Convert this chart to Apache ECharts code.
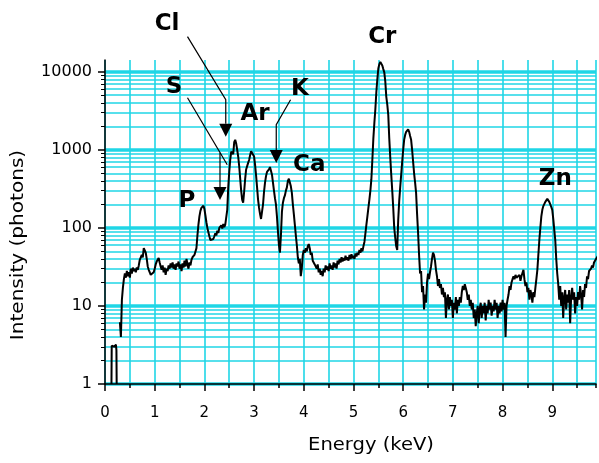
<!DOCTYPE html>
<html>
<head>
<meta charset="utf-8">
<title>XRF spectrum</title>
<script src="https://cdn.jsdelivr.net/npm/echarts@6/dist/echarts.min.js"></script>
<style>
  html, body { margin: 0; padding: 0; background: #fff; }
  #main { width: 599px; height: 463px; }
</style>
</head>
<body>
<div id="main"></div>
<script>
// spectrum: energy (keV) / intensity (photons)
var energy = [
  0.13, 0.135, 0.16, 0.19, 0.22, 0.23, 0.235, 0.27, 0.30, 0.32,
  0.34, 0.36, 0.38, 0.40, 0.42, 0.44, 0.46, 0.48, 0.50, 0.52,
  0.54, 0.56, 0.58, 0.60, 0.62, 0.64, 0.66, 0.68, 0.70, 0.72,
  0.74, 0.76, 0.78, 0.80, 0.82, 0.84, 0.86, 0.88, 0.90, 0.92,
  0.94, 0.96, 0.98, 1.00, 1.02, 1.04, 1.06, 1.08, 1.10, 1.12,
  1.14, 1.16, 1.18, 1.20, 1.22, 1.24, 1.26, 1.28, 1.30, 1.32,
  1.34, 1.36, 1.38, 1.40, 1.42, 1.44, 1.46, 1.48, 1.50, 1.52,
  1.54, 1.56, 1.58, 1.60, 1.62, 1.64, 1.66, 1.68, 1.70, 1.72,
  1.74, 1.76, 1.78, 1.80, 1.82, 1.84, 1.86, 1.88, 1.90, 1.92,
  1.94, 1.96, 1.98, 2.00, 2.02, 2.04, 2.06, 2.08, 2.10, 2.12,
  2.14, 2.16, 2.18, 2.20, 2.22, 2.24, 2.26, 2.28, 2.30, 2.32,
  2.34, 2.36, 2.38, 2.40, 2.42, 2.44, 2.46, 2.48, 2.50, 2.52,
  2.54, 2.56, 2.58, 2.60, 2.62, 2.64, 2.66, 2.68, 2.70, 2.72,
  2.74, 2.76, 2.78, 2.80, 2.82, 2.84, 2.86, 2.88, 2.90, 2.92,
  2.94, 2.96, 2.98, 3.00, 3.02, 3.04, 3.06, 3.08, 3.10, 3.12,
  3.14, 3.16, 3.18, 3.20, 3.22, 3.24, 3.26, 3.28, 3.30, 3.32,
  3.34, 3.36, 3.38, 3.40, 3.42, 3.44, 3.46, 3.48, 3.50, 3.52,
  3.54, 3.56, 3.58, 3.60, 3.62, 3.64, 3.66, 3.68, 3.70, 3.72,
  3.74, 3.76, 3.78, 3.80, 3.82, 3.84, 3.86, 3.88, 3.90, 3.92,
  3.94, 3.96, 3.98, 4.00, 4.02, 4.04, 4.06, 4.08, 4.10, 4.12,
  4.14, 4.16, 4.18, 4.20, 4.22, 4.24, 4.26, 4.28, 4.30, 4.32,
  4.34, 4.36, 4.38, 4.40, 4.42, 4.44, 4.46, 4.48, 4.50, 4.52,
  4.54, 4.56, 4.58, 4.60, 4.62, 4.64, 4.66, 4.68, 4.70, 4.72,
  4.74, 4.76, 4.78, 4.80, 4.82, 4.84, 4.86, 4.88, 4.90, 4.92,
  4.94, 4.96, 4.98, 5.00, 5.02, 5.04, 5.06, 5.08, 5.10, 5.12,
  5.14, 5.16, 5.18, 5.20, 5.22, 5.24, 5.26, 5.28, 5.30, 5.32,
  5.34, 5.36, 5.38, 5.40, 5.42, 5.44, 5.46, 5.48, 5.50, 5.52,
  5.54, 5.56, 5.58, 5.60, 5.62, 5.64, 5.66, 5.68, 5.70, 5.72,
  5.74, 5.76, 5.78, 5.80, 5.82, 5.84, 5.86, 5.88, 5.90, 5.92,
  5.94, 5.96, 5.98, 6.00, 6.02, 6.04, 6.06, 6.08, 6.10, 6.12,
  6.14, 6.16, 6.18, 6.20, 6.22, 6.24, 6.26, 6.28, 6.30, 6.32,
  6.34, 6.36, 6.38, 6.40, 6.42, 6.44, 6.46, 6.48, 6.50, 6.52,
  6.54, 6.56, 6.58, 6.60, 6.62, 6.64, 6.66, 6.68, 6.70, 6.72,
  6.74, 6.76, 6.78, 6.80, 6.82, 6.84, 6.86, 6.88, 6.90, 6.92,
  6.94, 6.96, 6.98, 7.00, 7.02, 7.04, 7.06, 7.08, 7.10, 7.12,
  7.14, 7.16, 7.18, 7.20, 7.22, 7.24, 7.26, 7.28, 7.30, 7.32,
  7.34, 7.36, 7.38, 7.40, 7.42, 7.44, 7.46, 7.48, 7.50, 7.52,
  7.54, 7.56, 7.58, 7.60, 7.62, 7.64, 7.66, 7.68, 7.70, 7.72,
  7.74, 7.76, 7.78, 7.80, 7.82, 7.84, 7.86, 7.88, 7.90, 7.92,
  7.94, 7.96, 7.98, 8.00, 8.02, 8.04, 8.06, 8.08, 8.10, 8.12,
  8.14, 8.16, 8.18, 8.20, 8.22, 8.24, 8.26, 8.28, 8.30, 8.32,
  8.34, 8.36, 8.38, 8.40, 8.42, 8.44, 8.46, 8.48, 8.50, 8.52,
  8.54, 8.56, 8.58, 8.60, 8.62, 8.64, 8.66, 8.68, 8.70, 8.72,
  8.74, 8.76, 8.78, 8.80, 8.82, 8.84, 8.86, 8.88, 8.90, 8.92,
  8.94, 8.96, 8.98, 9.00, 9.02, 9.04, 9.06, 9.08, 9.10, 9.12,
  9.14, 9.16, 9.18, 9.20, 9.22, 9.24, 9.26, 9.28, 9.30, 9.32,
  9.34, 9.36, 9.38, 9.40, 9.42, 9.44, 9.46, 9.48, 9.50, 9.52,
  9.54, 9.56, 9.58, 9.60, 9.62, 9.64, 9.66, 9.68, 9.70, 9.72,
  9.74, 9.76, 9.78, 9.80, 9.82, 9.84, 9.86, 9.88, 9.90, 9.92
];
var counts = [
  1, 3.1, 3.2, 3.0, 3.2, 2.7, 1, null, 6.2, 4,
  12, 17, 22, 26, 23, 28, 24, 27, 23, 30,
  26, 31, 28, 30, 27, 31, 29, 33, 39, 37,
  45, 42, 55, 57, 48, 40, 32, 29, 27, 25,
  24, 25, 27, 30, 34, 37, 39, 41, 36, 32,
  29, 33, 27, 31, 25, 30, 28, 33, 30, 35,
  31, 36, 30, 34, 29, 35, 32, 37, 30, 34,
  28, 35, 31, 38, 32, 40, 34, 30, 36, 33,
  39, 42, 40, 45, 43, 55, 80, 110, 140, 165,
  180, 190, 192, 175, 145, 118, 100, 88, 78, 70,
  66, 68, 72, 78, 85, 80, 92, 86, 100, 95,
  108, 98, 112, 102, 110, 104, 170, 330, 520, 750,
  950, 1000, 880, 1250, 1340, 1200, 1000, 820, 620, 430,
  300, 230, 210, 290, 420, 560, 540, 680, 740, 850,
  960, 1000, 980, 820, 640, 470, 330, 230, 180, 150,
  130, 125, 200, 290, 380, 460, 520, 500, 560, 600,
  585, 480, 380, 300, 240, 200, 140, 90, 60, 48,
  80, 160, 210, 240, 260, 300, 330, 400, 425, 415,
  340, 280, 200, 150, 110, 80, 60, 42, 35, 40,
  24, 30, 45, 52, 48, 55, 50, 58, 62, 55,
  45, 48, 38, 40, 34, 36, 30, 34, 27, 30,
  25, 28, 24, 30, 27, 33, 29, 32, 28, 35,
  30, 33, 29, 36, 31, 35, 30, 38, 34, 40,
  36, 42, 37, 41, 38, 44, 39, 42, 38, 45,
  40, 46, 41, 44, 40, 47, 43, 48, 45, 52,
  48, 55, 50, 58, 66, 85, 110, 140, 180, 230,
  300, 420, 750, 1400, 2200, 3300, 5500, 8000, 11000, 12500,
  13300, 12800, 12000, 10800, 9800, 7500, 4800, 3800, 2800, 1400,
  800, 480, 300, 180, 100, 75, 58, 52, 126, 220,
  330, 480, 700, 1000, 1350, 1550, 1700, 1800, 1830, 1700,
  1500, 1340, 1000, 700, 500, 380, 280, 150, 86, 45,
  26, 28, 15, 18, 9, 14, 11, 20, 26, 22,
  27, 32, 40, 48, 45, 38, 29, 24, 18, 22,
  17, 19, 14, 17, 13, 15, 7, 12, 14, 9,
  13, 10, 12, 7, 11, 9, 13, 8, 12, 10,
  13, 11, 15, 18, 16, 19, 17, 15, 12, 14,
  10, 12, 9, 11, 7, 9, 5.5, 8, 10, 6,
  9, 11, 7, 10, 8, 11, 6.5, 10, 8, 12,
  9, 11, 7.5, 10, 8.5, 12, 9, 11, 7, 10,
  8, 11, 8.5, 12, 9, 11, 4, 10, 12, 14,
  18, 16, 20, 22, 24, 22, 25, 23, 24, 22,
  25, 21, 24, 23, 29, 22, 18, 20, 15, 17,
  12, 16, 14, 11, 15, 13, 17, 22, 29, 45,
  70, 100, 140, 170, 190, 200, 215, 225, 235, 230,
  215, 200, 185, 170, 130, 95, 70, 40, 26, 19,
  12, 18, 10, 15, 7, 13, 16, 9, 14, 11,
  16, 6, 13, 17, 12, 15, 8, 13, 10, 15,
  12, 18, 14, 9, 16, 13, 19, 17, 24, 22,
  28, 27, 30, 33, 31, 36, 38, 40, 42, 44
];

// log axis ticks
var decades = [1, 10, 100, 1000, 10000];
var minorFactors = [2, 3, 4, 5, 6, 7, 8, 9];
var keVTicks = [0, 1, 2, 3, 4, 5, 6, 7, 8, 9];

// element labels: text, keV, photons (label centre)
var peakNames = ['Cl', 'S', 'Ar', 'K', 'Ca', 'P', 'Cr', 'Zn'];
var peakLabelE = [1.25, 1.39, 3.02, 3.92, 4.11, 1.65, 5.58, 9.06];
var peakLabelI = [41200, 6430, 2900, 6050, 643, 222, 27700, 425];

// arrows: keV / photons points, last point is the tip
var arrowLines = [
  { pts: [[1.66, 28100], [2.43, 4375], [2.43, 1470]], head: true },   // Cl
  { pts: [[1.66, 4645], [2.46, 643]], head: false },                  // S leader
  { pts: [[2.314, 916], [2.314, 228]], head: true },                  // S
  { pts: [[3.734, 4375], [3.446, 2094], [3.446, 675]], head: true }   // K
];

var gridColor = '#1fd6e6';

var chart = echarts.init(document.getElementById('main'));

var lg = function (v) { return Math.log(v) / Math.LN10; };
var seriesData = [];
for (var i = 0; i < energy.length; i++) {
  seriesData.push([energy[i], counts[i] == null ? null : lg(counts[i])]);
}
var majorVals = decades.map(lg);
var minorVals = [];
for (var d = 0; d < decades.length - 1; d++) {
  for (var k = 0; k < minorFactors.length; k++) {
    minorVals.push(lg(decades[d] * minorFactors[k]));
  }
}

var yMax = 4.15;
var xMax = 9.88;
var option = {
  animation: false,
  grid: { left: 105, right: 0, top: 60, bottom: 79 },
  xAxis: [{
    type: 'value', min: 0, max: xMax, interval: 0.5, position: 'bottom',
    axisLine: { lineStyle: { color: '#000', width: 1.5 } },
    axisTick: { length: 4, lineStyle: { color: '#000', width: 1.5 } },
    splitLine: { show: true, lineStyle: { color: gridColor, width: 1.6 } },
    axisLabel: {
      color: '#000', fontFamily: 'DejaVu Sans', fontSize: 15, margin: 22,
      formatter: function (v) { return Math.abs(v - Math.round(v)) < 1e-6 ? String(Math.round(v)) : ''; }
    }
  }, {
    // longer ticks at whole keV
    type: 'value', min: 0, max: xMax, position: 'bottom',
    axisLine: { show: false },
    axisTick: { show: true, length: 7, customValues: keVTicks, lineStyle: { color: '#000', width: 1.5 } },
    axisLabel: { show: false },
    splitLine: { show: false }
  }],
  yAxis: [{
    type: 'value', min: 0, max: yMax, position: 'left',
    axisLine: { show: true, lineStyle: { color: '#000', width: 1.5 } },
    axisTick: { show: true, length: 7, customValues: majorVals, lineStyle: { color: '#000', width: 1.5 } },
    axisLabel: {
      customValues: majorVals, color: '#000', fontFamily: 'DejaVu Sans', fontSize: 16, margin: 13,
      formatter: function (v) { return String(Math.round(Math.pow(10, v))); }
    },
    splitLine: { show: true, lineStyle: { color: gridColor, width: 3.5 } }
  }, {
    type: 'value', min: 0, max: yMax, position: 'left',
    axisLine: { show: false },
    axisTick: { show: true, length: 4, customValues: minorVals, lineStyle: { color: '#000', width: 1 } },
    axisLabel: { show: false },
    splitLine: { show: true, lineStyle: { color: gridColor, width: 1.6 } }
  }],
  series: [{
    type: 'line',
    data: seriesData,
    symbol: 'none',
    showSymbol: false,
    connectNulls: false,
    lineStyle: { color: '#000', width: 2 },
    z: 3
  }]
};
chart.setOption(option);

// annotations, placed through the axes
function toPx(e, v) {
  return chart.convertToPixel({ xAxisIndex: 0, yAxisIndex: 0 }, [e, lg(v)]);
}
var graphics = [];
for (var p = 0; p < peakNames.length; p++) {
  var c = toPx(peakLabelE[p], peakLabelI[p]);
  graphics.push({
    type: 'text', x: c[0], y: c[1], z: 10,
    style: { text: peakNames[p], font: 'bold 23px "DejaVu Sans"', fill: '#000', align: 'center', verticalAlign: 'middle' }
  });
}
arrowLines.forEach(function (a) {
  var pts = a.pts.map(function (q) { return toPx(q[0], q[1]); });
  if (a.head) {
    var tip = pts[pts.length - 1], from = pts[pts.length - 2];
    var dx = tip[0] - from[0], dy = tip[1] - from[1];
    var len = Math.sqrt(dx * dx + dy * dy);
    var ux = dx / len, uy = dy / len;
    var bx = tip[0] - ux * 13, by = tip[1] - uy * 13;
    pts[pts.length - 1] = [bx, by];
    graphics.push({
      type: 'polygon', z: 10,
      shape: { points: [tip, [bx - uy * 6.5, by + ux * 6.5], [bx + uy * 6.5, by - ux * 6.5]] },
      style: { fill: '#000' }
    });
  }
  graphics.push({
    type: 'polyline', z: 10,
    shape: { points: pts },
    style: { stroke: '#000', lineWidth: 1.2, fill: null }
  });
});
// axis titles
graphics.push({
  type: 'text', x: 19, y: 245, rotation: Math.PI / 2, scaleX: 1.18,
  style: { text: 'Intensity (photons)', font: '17px "DejaVu Sans"', fill: '#000', align: 'center', verticalAlign: 'middle' }
});
graphics.push({
  type: 'text', x: 371, y: 446, scaleX: 1.15,
  style: { text: 'Energy (keV)', font: '17px "DejaVu Sans"', fill: '#000', align: 'center', verticalAlign: 'middle' }
});
chart.setOption({ graphic: graphics });
</script>
</body>
</html>
